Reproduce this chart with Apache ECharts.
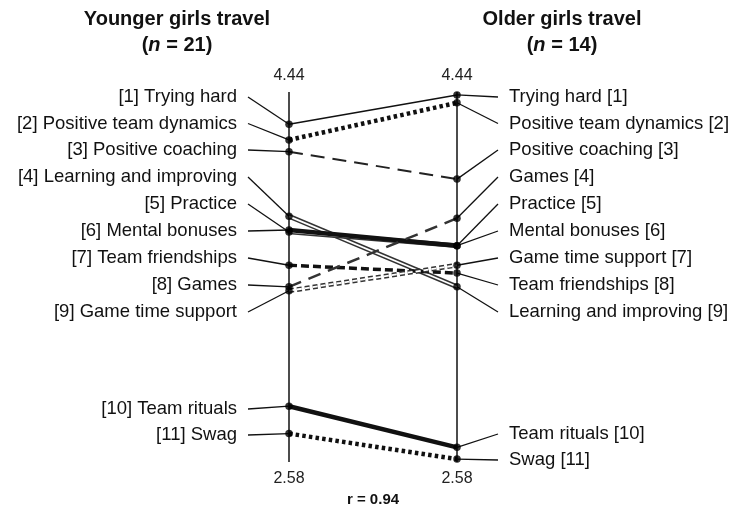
<!DOCTYPE html>
<html>
<head>
<meta charset="utf-8">
<script src="https://cdn.jsdelivr.net/npm/echarts@6/dist/echarts.min.js"></script>
<style>
  html, body { margin: 0; padding: 0; background: #fff; }
  #chart { width: 731px; height: 508px; }
</style>
</head>
<body>
<div id="chart"></div>
<script>
// --- data ---
const factors = ['Trying hard', 'Positive team dynamics', 'Positive coaching', 'Learning and improving',
  'Practice', 'Mental bonuses', 'Team friendships', 'Games', 'Game time support', 'Team rituals', 'Swag'];
const youngerMean = [4.29, 4.21, 4.15, 3.82, 3.74, 3.75, 3.57, 3.46, 3.44, 2.85, 2.71];
const olderMean = [4.44, 4.40, 4.01, 3.46, 3.67, 3.67, 3.53, 3.81, 3.57, 2.64, 2.58];
const youngerRank = [1, 2, 3, 4, 5, 6, 7, 8, 9, 10, 11];
const olderRank = [1, 2, 3, 9, 5, 6, 8, 4, 7, 10, 11];
const groupNames = ['Younger girls travel', 'Older girls travel'];
const groupN = [21, 14];
const topTickLabels = ['4.44', '4.44'];
const bottomTickLabels = ['2.58', '2.58'];
const correlationLabel = 'r = 0.94';

// --- layout / style ---
const FONT = '"Liberation Sans", Arial, sans-serif';
const SLOT_Y = [
  [97, 123.5, 150, 177, 204, 231, 258, 285, 312, 409, 435],
  [97, 123.5, 150, 177, 204, 231, 258, 285, 312, 434, 460]
];
const LEADER_LEN = 41;
const TEXT_GAP = 52;

const dotted = { type: [3.5, 3.2], width: 4.5, color: '#111' };
const lineStyles = [
  { type: 'solid', width: 1.5, color: '#111' },
  dotted,
  { type: [14, 8], width: 2, color: '#222' },
  { double: true, type: 'solid' },
  { double: true, type: 'solid' },
  { type: 'solid', width: 4.5, color: '#111' },
  { type: [8, 4], width: 3.5, color: '#111' },
  { type: [13, 8], width: 2.5, color: '#333' },
  { double: true, type: [5, 3] },
  { type: 'solid', width: 4.5, color: '#111' },
  dotted
];

const chart = echarts.init(document.getElementById('chart'));

// lines between the two groups
const series = [];
factors.forEach((name, i) => {
  const data = [[0, youngerMean[i]], [1, olderMean[i]]];
  const st = lineStyles[i];
  if (st.double) {
    series.push({ type: 'line', data, showSymbol: false, silent: true, z: 2,
      lineStyle: { type: st.type, width: 4.8, color: '#333', cap: 'butt' } });
    series.push({ type: 'line', data, showSymbol: false, silent: true, z: 2,
      lineStyle: { type: st.type, width: 1.8, color: '#fff', cap: 'butt' } });
  } else {
    series.push({ type: 'line', data, showSymbol: false, silent: true, z: 2,
      lineStyle: { type: st.type, width: st.width, color: st.color, cap: 'butt' } });
  }
});

// leader lines + factor labels
function labelRenderer(side) {
  return function (params, api) {
    const i = params.dataIndex;
    const p = api.coord([api.value(0), api.value(1)]);
    const rank = side === 0 ? youngerRank[i] : olderRank[i];
    const y = SLOT_Y[side][rank - 1];
    const dir = side === 0 ? -1 : 1;
    const text = side === 0 ? '[' + rank + '] ' + factors[i] : factors[i] + ' [' + rank + ']';
    return {
      type: 'group',
      children: [
        { type: 'line', shape: { x1: p[0], y1: p[1], x2: p[0] + dir * LEADER_LEN, y2: y },
          style: { stroke: '#111', lineWidth: 1.3 } },
        { type: 'text', style: { text, x: p[0] + dir * TEXT_GAP, y,
          align: side === 0 ? 'right' : 'left', verticalAlign: 'middle',
          font: '18.5px ' + FONT, fill: '#111' } }
      ]
    };
  };
}
[youngerMean, olderMean].forEach((vals, side) => {
  series.push({ type: 'custom', renderItem: labelRenderer(side), silent: true, z: 3,
    data: vals.map(v => [side, v]) });
});

// points
series.push({ type: 'scatter', symbol: 'circle', symbolSize: 7.5, silent: true, z: 10,
  itemStyle: { color: '#000' },
  data: youngerMean.map(v => [0, v]).concat(olderMean.map(v => [1, v])) });

const titleRich = {
  b: { fontFamily: FONT, fontSize: 20, fontWeight: 'bold', color: '#111', lineHeight: 26 },
  i: { fontFamily: FONT, fontSize: 20, fontWeight: 'bold', fontStyle: 'italic', color: '#111', lineHeight: 26 }
};

chart.setOption({
  animation: false,
  backgroundColor: '#fff',
  title: groupNames.map((g, k) => ({
    text: '{b|' + g + '}\n{b|(}{i|n}{b| = ' + groupN[k] + ')}',
    left: k === 0 ? 172 : 557,
    top: 1,
    textAlign: 'center',
    textStyle: { rich: titleRich, lineHeight: 26 }
  })),
  grid: { left: 289, right: 274, top: 92, bottom: 46, containLabel: false, outerBoundsMode: 'none' },
  xAxis: [
    { type: 'value', position: 'bottom', min: 0, max: 1, interval: 1,
      axisLine: { show: false }, axisTick: { show: false },
      splitLine: { show: true, lineStyle: { color: '#111', width: 1.5 } },
      axisLabel: { margin: 9, fontFamily: FONT, fontSize: 16, color: '#222',
        formatter: v => bottomTickLabels[v] },
      name: correlationLabel, nameLocation: 'middle', nameGap: 27,
      nameTextStyle: { fontFamily: FONT, fontSize: 15, fontWeight: 'bold', color: '#111' } },
    { type: 'value', position: 'top', min: 0, max: 1, interval: 1,
      axisLine: { show: false }, axisTick: { show: false }, splitLine: { show: false },
      axisLabel: { margin: 8, fontFamily: FONT, fontSize: 16, color: '#222',
        formatter: v => topTickLabels[v] } }
  ],
  yAxis: { type: 'value', min: 2.565, max: 4.455, show: false },
  series
});
</script>
</body>
</html>
